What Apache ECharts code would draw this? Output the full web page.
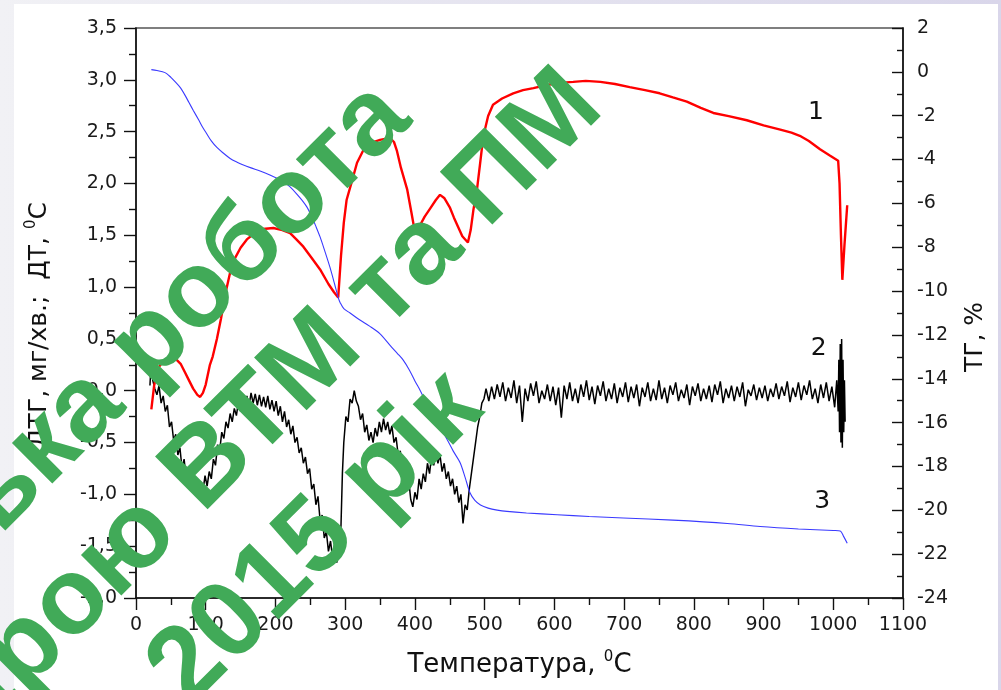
<!DOCTYPE html>
<html>
<head>
<meta charset="utf-8">
<script src="https://cdn.jsdelivr.net/npm/echarts@6.0.0/dist/echarts.min.js"></script>
<style>
  html, body { margin: 0; padding: 0; }
  #chart { width: 1001px; height: 690px; }
</style>
</head>
<body>
<div id="chart"></div>
<script>
// curve 1 - DTA (left axis), [temperature, value]
var dtaPoints = [
  [22,-0.18],[26,0.05],[32,0.22],[38,0.28],[45,0.3],[52,0.31],[58,0.3],[64,0.26],[70,0.18],[76,0.1],
  [82,0.02],[88,-0.04],[92,-0.06],[96,-0.02],[100,0.06],[106,0.25],[110,0.33],[116,0.5],[122,0.7],
  [128,0.93],[135,1.14],[142,1.28],[150,1.38],[159,1.46],[170,1.52],[182,1.56],[197,1.57],[210,1.55],
  [221,1.52],[230,1.46],[240,1.39],[252,1.28],[264,1.17],[276,1.03],[284,0.95],[290,0.9],[294,1.3],
  [298,1.62],[302,1.84],[310,2.03],[317,2.2],[326,2.32],[336,2.39],[350,2.42],[364,2.44],[370,2.4],
  [374,2.32],[380,2.15],[389,1.94],[395,1.72],[400,1.53],[406,1.58],[414,1.68],[422,1.76],[430,1.84],
  [436,1.89],[442,1.86],[450,1.77],[456,1.67],[462,1.58],[468,1.49],[476,1.43],[480,1.55],[484,1.75],
  [489,1.94],[494,2.22],[498,2.45],[505,2.65],[512,2.76],[525,2.82],[541,2.87],[555,2.9],[570,2.92],
  [589,2.95],[607,2.97],[627,2.98],[645,2.99],[666,2.98],[687,2.96],[708,2.93],[730,2.9],[751,2.87],
  [770,2.83],[790,2.79],[810,2.73],[828,2.68],[850,2.65],[876,2.61],[900,2.56],[924,2.52],[940,2.49],
  [952,2.46],[965,2.41],[981,2.33],[995,2.27],[1007,2.22],[1009,2.0],[1011,1.5],[1013,1.07],[1016,1.4],
  [1020,1.79]
];

// curve 2 - DTG (left axis)
var dtgPoints = [
  [20,0.05],[22,0.3],[24,0.1],[27,0.02],[30,-0.04],[33,0.05],[36,-0.12],[39,-0.05],[42,-0.2],[45,-0.14],
  [48,-0.35],[51,-0.3],[54,-0.48],[57,-0.42],[60,-0.62],[63,-0.55],[66,-0.75],[69,-0.66],[72,-0.85],
  [75,-0.76],[78,-0.93],[81,-0.84],[84,-1.0],[87,-0.9],[90,-1.02],[93,-0.88],[96,-0.97],[99,-0.82],
  [102,-0.92],[105,-0.78],[108,-0.85],[111,-0.66],[114,-0.72],[117,-0.52],[120,-0.58],[123,-0.4],
  [126,-0.46],[129,-0.3],[132,-0.36],[135,-0.22],[138,-0.3],[141,-0.17],[144,-0.24],[147,-0.1],
  [150,-0.2],[153,-0.08],[156,-0.18],[159,-0.05],[162,-0.15],[165,-0.02],[168,-0.12],[171,-0.03],
  [174,-0.14],[177,-0.04],[180,-0.15],[183,-0.06],[186,-0.16],[189,-0.05],[192,-0.18],[195,-0.09],
  [198,-0.2],[201,-0.1],[204,-0.24],[207,-0.15],[210,-0.3],[213,-0.2],[216,-0.35],[219,-0.28],
  [222,-0.42],[225,-0.34],[228,-0.5],[231,-0.45],[234,-0.6],[237,-0.55],[240,-0.7],[243,-0.64],
  [246,-0.8],[249,-0.75],[252,-0.95],[255,-0.9],[258,-1.1],[261,-1.02],[264,-1.25],[267,-1.2],
  [270,-1.42],[273,-1.36],[276,-1.55],[279,-1.45],[282,-1.62],[285,-1.5],[288,-1.66],[291,-1.5],
  [294,-1.3],[296,-0.8],[298,-0.5],[301,-0.25],[304,-0.3],[307,-0.08],[310,-0.12],[313,0.0],
  [316,-0.1],[319,-0.15],[322,-0.28],[325,-0.22],[328,-0.4],[331,-0.33],[334,-0.48],[337,-0.4],
  [340,-0.5],[343,-0.36],[346,-0.44],[349,-0.3],[352,-0.4],[355,-0.27],[358,-0.38],[361,-0.3],
  [364,-0.42],[367,-0.34],[370,-0.5],[373,-0.45],[376,-0.62],[379,-0.58],[382,-0.75],[385,-0.7],
  [388,-0.9],[391,-0.85],[394,-1.05],[397,-1.12],[400,-0.98],[403,-1.05],[406,-0.85],[409,-0.95],
  [412,-0.8],[415,-0.88],[418,-0.7],[421,-0.8],[424,-0.62],[427,-0.72],[430,-0.6],[433,-0.7],
  [436,-0.62],[439,-0.78],[442,-0.7],[445,-0.85],[448,-0.78],[451,-0.92],[454,-0.85],[457,-1.0],
  [460,-0.92],[463,-1.08],[466,-1.0],[469,-1.28],[472,-1.1],[475,-1.15],[478,-0.95],[481,-0.8],
  [484,-0.65],[487,-0.5],[490,-0.35],[493,-0.25],[496,-0.12],[499,-0.08],
  [502,0.02],[506,-0.1],[510,0.04],[514,-0.08],[518,0.06],[522,-0.06],[526,0.08],[530,-0.1],
  [534,0.03],[538,-0.07],[542,0.1],[546,-0.12],[550,0.05],[554,-0.3],[558,0.02],[562,-0.1],
  [566,0.07],[570,-0.05],[574,0.09],[578,-0.12],[582,0.0],[586,-0.08],[590,0.06],[594,-0.1],
  [598,0.04],[602,-0.14],[606,0.03],[610,-0.26],[614,0.05],[618,-0.08],[622,0.08],[626,-0.1],
  [630,0.02],[634,-0.12],[638,0.06],[642,-0.06],[646,0.1],[650,-0.09],[654,0.04],[658,-0.13],
  [662,0.05],[666,-0.05],[670,0.09],[674,-0.1],[678,0.02],[682,-0.08],[686,0.07],[690,-0.12],
  [694,0.03],[698,-0.06],[702,0.08],[706,-0.11],[710,0.04],[714,-0.07],[718,0.06],[722,-0.15],
  [726,0.03],[730,-0.06],[734,0.08],[738,-0.1],[742,0.02],[746,-0.09],[750,0.1],[754,-0.08],
  [758,0.03],[762,-0.12],[766,0.05],[770,-0.04],[774,0.08],[778,-0.1],[782,0.01],[786,-0.07],
  [790,0.06],[794,-0.14],[798,0.04],[802,-0.05],[806,0.07],[810,-0.1],[814,0.02],[818,-0.08],
  [822,0.05],[826,-0.11],[830,0.06],[834,-0.04],[838,0.09],[842,-0.12],[846,0.02],[850,-0.07],
  [854,0.05],[858,-0.1],[862,0.04],[866,-0.06],[870,0.08],[874,-0.15],[878,0.01],[882,-0.05],
  [886,0.06],[890,-0.09],[894,0.03],[898,-0.07],[902,0.05],[906,-0.1],[910,0.02],[914,-0.06],
  [918,0.07],[922,-0.08],[926,0.04],[930,-0.05],[934,0.09],[938,-0.11],[942,0.03],[946,-0.06],
  [950,0.08],[954,-0.09],[958,0.05],[962,-0.04],[966,0.1],[970,-0.08],[974,0.02],[978,-0.12],
  [982,0.06],[986,-0.07],[990,0.08],[994,-0.1],[998,0.04],[1002,-0.16],[1005,0.1],[1007,-0.2],
  [1008,0.3],[1009,-0.4],[1010,0.45],[1011,-0.5],[1012,0.5],[1013,-0.55],[1014,0.3],[1015,-0.4],
  [1016,0.1],[1017,-0.3]
];

// curve 3 - TG, % (right axis)
var tgPoints = [
  [22,0.1],[30,0.06],[38,0.0],[44,-0.08],[50,-0.25],[56,-0.45],[63,-0.7],[70,-1.05],[76,-1.4],
  [82,-1.75],[90,-2.2],[96,-2.55],[101,-2.8],[108,-3.15],[116,-3.45],[125,-3.7],[135,-3.95],
  [145,-4.12],[154,-4.25],[165,-4.38],[178,-4.52],[192,-4.7],[205,-4.9],[215,-5.1],[221,-5.25],
  [230,-5.55],[238,-5.85],[245,-6.16],[252,-6.6],[258,-7.05],[264,-7.53],[270,-8.1],[278,-8.9],
  [285,-9.7],[290,-10.3],[293,-10.54],[298,-10.8],[307,-11.0],[320,-11.3],[335,-11.6],[350,-11.95],
  [365,-12.5],[375,-12.85],[383,-13.14],[392,-13.6],[400,-14.1],[407,-14.5],[415,-15.0],[425,-15.55],
  [436,-16.2],[445,-16.7],[455,-17.3],[465,-17.84],[472,-18.5],[479,-19.2],[486,-19.55],[494,-19.76],
  [505,-19.9],[518,-19.99],[532,-20.05],[560,-20.12],[604,-20.2],[650,-20.28],[699,-20.35],
  [770,-20.45],[848,-20.6],[895,-20.74],[950,-20.85],[1000,-20.92],[1010,-20.94],[1015,-21.2],
  [1020,-21.5]
];

var xTicks = { min: 0, max: 1100, step: 100 };
var leftTicks = { min: -2, max: 3.5, step: 0.5 };
var rightTicks = { min: -24, max: 2, step: 2 };

// curve numbers: [label, temperature, value]
var curveLabels = [['1', 975, 2.68], ['2', 979, 0.41], ['3', 984, -19.62]];

var watermark = ['Магістерська робота', 'кафедрою ВТМ та ПМ', 'Київ, 2015 рік'];

var font = '"DejaVu Sans", Verdana, sans-serif';
var wmFont = '"Liberation Sans", Arial, sans-serif';
var axisColor = '#111';

function curveMark(item) {
    return {
        symbol: 'circle',
        symbolSize: 0,
        silent: true,
        label: {
            show: true,
            position: 'inside',
            formatter: item[0],
            color: '#111',
            fontFamily: font,
            fontSize: 25
        },
        data: [{ coord: [item[1], item[2]] }]
    };
}

function nameStyle(shift, size) {
    return {
        fontFamily: font, fontSize: size, color: '#111',
        padding: [0, shift, 0, 0],
        rich: {
            n: { fontFamily: font, fontSize: size, color: '#111', lineHeight: 30 },
            sup: { fontFamily: font, fontSize: 15, color: '#111', lineHeight: 30, verticalAlign: 'top' }
        }
    };
}

function baseAxis(extra) {
    var a = {
        type: 'value',
        axisLine: { show: true, onZero: false, lineStyle: { color: axisColor, width: 1.6 } },
        axisTick: { show: true, length: 12, lineStyle: { color: axisColor, width: 1.4 } },
        minorTick: { show: true, splitNumber: 2, length: 7, lineStyle: { color: axisColor, width: 1.4 } },
        splitLine: { show: false },
        nameMoveOverlap: false
    };
    for (var k in extra) { a[k] = extra[k]; }
    return a;
}

var chart = echarts.init(document.getElementById('chart'), null, { renderer: 'canvas' });

var option = {
    animation: false,
    backgroundColor: {
        type: 'linear', x: 0, y: 0, x2: 1, y2: 0,
        colorStops: [{ offset: 0, color: '#f1f1f5' }, { offset: 1, color: '#d9d6ea' }]
    },
    grid: {
        left: 136, right: 98, top: 28, bottom: 92,
        outerBoundsMode: 'none',
        show: true, backgroundColor: 'transparent', borderColor: '#555', borderWidth: 1.5
    },
    xAxis: baseAxis({
        min: xTicks.min, max: xTicks.max, interval: xTicks.step,
        name: '{n|Температура, }{sup|0}{n|С}',
        nameLocation: 'middle', nameGap: 52,
        nameTextStyle: nameStyle(0, 26),
        axisLabel: {
            fontFamily: font, fontSize: 19, color: '#1a1a1a', margin: 18, hideOverlap: false,
            formatter: function (v) { return String(v); }
        }
    }),
    yAxis: [
        baseAxis({
            position: 'left',
            min: leftTicks.min, max: leftTicks.max, interval: leftTicks.step,
            name: '{n|ДТГ, мг/хв.;  ДТ, }{sup|0}{n|С}',
            nameLocation: 'middle', nameGap: 82, nameRotate: 90,
            nameTextStyle: nameStyle(24, 25),
            axisLabel: {
                fontFamily: font, fontSize: 19, color: '#1a1a1a', margin: 19, hideOverlap: false,
                formatter: function (v) { return v.toFixed(1).replace('.', ','); }
            }
        }),
        baseAxis({
            position: 'right',
            min: rightTicks.min, max: rightTicks.max, interval: rightTicks.step,
            name: '{n|ТГ, %}',
            nameLocation: 'middle', nameGap: 57, nameRotate: 90,
            nameTextStyle: nameStyle(48, 25),
            axisTick: { show: true, inside: true, length: 11, lineStyle: { color: axisColor, width: 1.4 } },
            minorTick: { show: true, splitNumber: 2, length: 6, lineStyle: { color: axisColor, width: 1.4 } },
            axisLabel: {
                fontFamily: font, fontSize: 19, color: '#1a1a1a', margin: 14, hideOverlap: false,
                formatter: function (v) { return String(v); }
            }
        })
    ],
    series: [
        {
            name: 'DTA', type: 'line', yAxisIndex: 0, data: dtaPoints,
            showSymbol: false, lineStyle: { color: '#ff0000', width: 2.4 }, z: 3,
            markPoint: curveMark(curveLabels[0])
        },
        {
            name: 'DTG', type: 'line', yAxisIndex: 0, data: dtgPoints,
            showSymbol: false, lineStyle: { color: '#000000', width: 1.5 }, z: 2,
            markPoint: curveMark(curveLabels[1])
        },
        {
            name: 'TG', type: 'line', yAxisIndex: 1, data: tgPoints,
            showSymbol: false, smooth: 0.3, lineStyle: { color: '#3a3aff', width: 1.1 }, z: 4,
            markPoint: curveMark(curveLabels[2])
        }
    ],
    graphic: [
        {
            type: 'rect', z: -100, silent: true,
            shape: { x: 14, y: 4, width: 984, height: 686 },
            style: { fill: '#ffffff' }
        }
    ]
};

// rotated green watermark lines, anchored at the end of each line
var wmAnchors = [[431, 139], [623, 128], [503, 429]];
for (var i = 0; i < watermark.length; i++) {
    option.graphic.push({
        type: 'text', z: 100, silent: true,
        x: wmAnchors[i][0], y: wmAnchors[i][1],
        rotation: Math.PI / 4,
        style: {
            text: watermark[i],
            fill: '#41aa58',
            font: 'bold 108px ' + wmFont,
            align: 'right', textAlign: 'right',
            verticalAlign: 'bottom', textVerticalAlign: 'bottom'
        }
    });
}

chart.setOption(option);
</script>
</body>
</html>
